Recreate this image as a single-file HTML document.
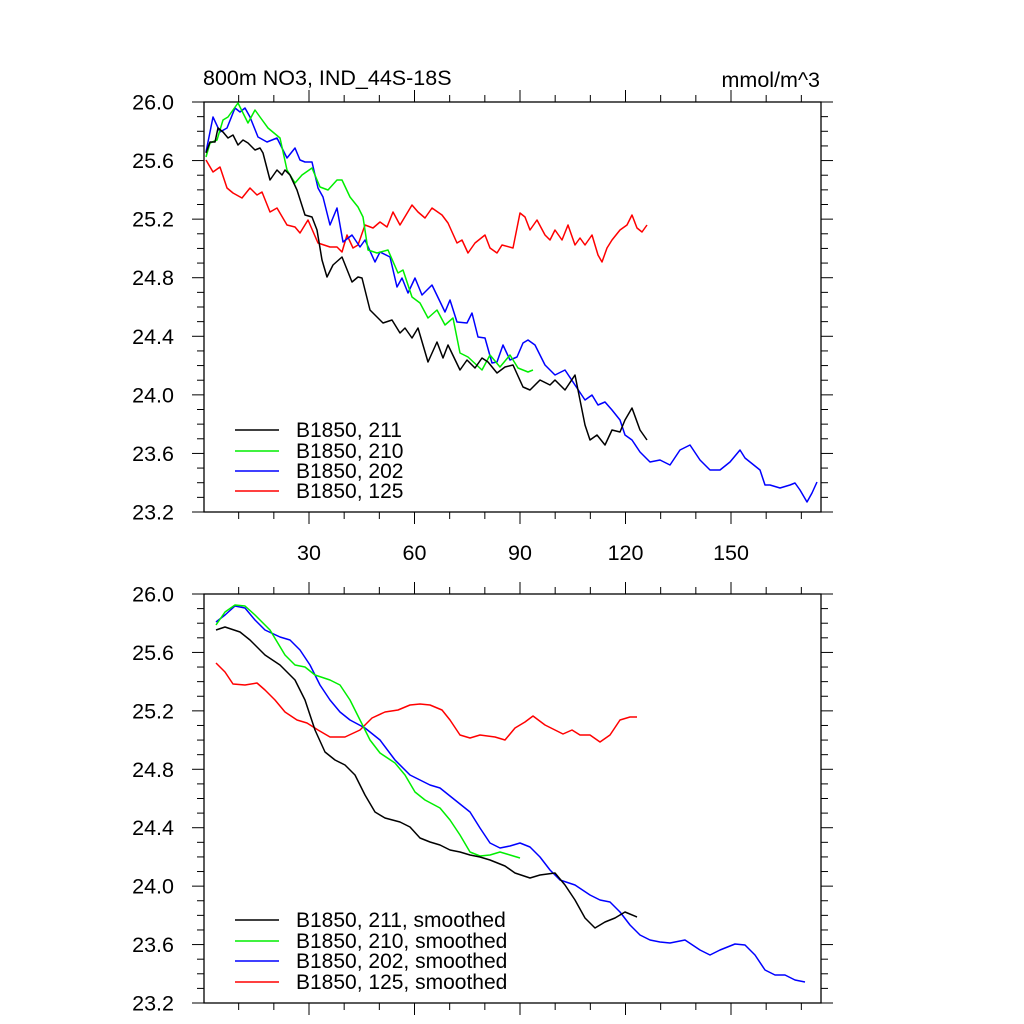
<!DOCTYPE html>
<html><head><meta charset="utf-8"><style>
html,body{margin:0;padding:0;background:#fff}
svg{display:block}
text{font-family:"Liberation Sans",sans-serif;fill:#000}
</style></head><body>
<svg id="s" width="1024" height="1024" xmlns="http://www.w3.org/2000/svg">
<text x="203" y="85" font-size="21.5">800m NO3, IND_44S-18S</text>
<text x="820" y="87" font-size="21.5" text-anchor="end">mmol/m^3</text>
<g id="ax"></g>
<g fill="none" stroke-width="1.5" stroke-linejoin="round">
<polyline stroke="#ff0000" points="206,160 213,172 220,167 227,188 233,193 242,198 250,188 257,195 262,192 270,212 277,208 287,225 295,227 300,233 308,220 318,243 330,247 337,247 342,252 347,235 353,248 358,245 365,225 373,228 380,222 387,227 393,212 400,225 412,205 418,212 425,218 432,208 442,215 448,223 457,243 462,240 468,253 475,243 485,235 490,248 497,253 502,245 513,248 520,213 525,217 530,230 537,220 545,235 550,240 555,230 562,240 568,225 575,245 580,238 585,245 592,235 598,255 602,262 607,248 612,240 620,230 627,225 632,215 637,228 642,232 647,225"/>
<polyline stroke="#0000ff" points="206,152 213,117 220,132 227,128 235,108 240,112 245,108 250,117 258,137 267,142 277,138 287,158 295,148 300,160 305,162 312,162 318,188 323,197 330,225 337,208 343,242 352,235 360,247 365,240 375,262 380,252 390,257 397,287 402,278 408,293 415,278 422,295 432,285 445,312 450,300 457,322 467,323 472,313 478,337 485,338 492,363 497,362 503,345 510,360 517,357 523,343 528,340 535,345 545,365 555,375 565,370 575,385 585,400 592,395 598,405 605,402 612,410 620,420 625,435 632,440 640,452 650,462 660,460 670,465 680,450 690,445 700,460 710,470 720,470 730,462 740,450 745,458 750,462 760,470 765,485 770,485 780,488 790,485 795,483 800,490 807,502 812,493 817,482"/>
<polyline stroke="#00ee00" points="206,157 210,143 217,140 223,120 228,117 233,110 238,103 243,113 248,123 255,110 260,117 268,128 280,138 287,170 295,183 302,175 312,168 320,187 328,190 337,180 342,180 350,197 358,207 363,217 368,250 377,253 388,250 398,273 403,270 412,297 420,303 428,318 437,310 445,325 453,318 460,353 468,357 482,370 490,355 500,367 510,355 518,368 528,372 533,370"/>
<polyline stroke="#000" points="206,153 210,142 215,142 218,128 223,132 228,138 233,135 238,145 243,140 248,143 255,150 260,148 263,153 270,180 277,170 282,175 285,170 290,175 297,190 305,215 312,217 317,230 322,260 327,277 333,265 342,257 352,282 358,277 362,278 370,310 383,323 392,320 400,333 405,328 412,338 418,328 428,362 437,342 443,358 448,345 460,370 467,360 475,368 482,358 488,362 497,373 505,367 513,365 523,387 530,390 540,380 550,385 555,380 565,390 575,375 580,400 585,425 590,440 597,435 605,445 612,430 620,432 625,420 632,408 640,430 647,440"/>
<polyline stroke="#ff0000" points="216,663 225,672 233,684 245,685 257,683 265,690 275,700 285,712 297,720 307,723 318,730 330,737 345,737 360,730 372,718 385,712 398,710 410,705 420,704 430,705 442,710 450,720 460,735 470,738 480,735 495,737 505,740 515,728 525,722 533,716 545,725 555,730 563,734 572,730 580,735 590,735 600,742 610,735 620,720 630,717 637,717"/>
<polyline stroke="#0000ff" points="216,622 225,615 235,606 245,608 255,620 265,630 280,637 290,640 300,650 310,665 320,685 330,700 340,712 350,720 365,728 380,740 395,760 410,775 420,780 430,785 440,788 455,800 470,812 480,828 490,843 500,848 510,846 520,843 530,847 540,857 550,870 560,880 575,885 590,895 600,900 610,902 620,912 630,925 640,935 650,940 660,942 670,943 685,940 700,950 710,955 720,950 735,944 745,945 755,955 765,970 775,975 785,975 795,980 805,982"/>
<polyline stroke="#00ee00" points="216,625 225,612 235,605 245,606 255,615 270,630 285,655 295,665 305,667 315,675 330,680 340,685 350,700 360,720 370,740 380,753 395,763 405,775 415,792 425,800 440,808 450,820 460,835 470,852 480,856 490,855 500,852 510,855 520,858"/>
<polyline stroke="#000" points="216,630 225,627 240,632 250,640 265,655 280,665 295,680 305,700 315,730 325,752 335,760 345,765 355,775 365,795 375,812 385,818 400,822 410,827 420,838 430,842 440,845 450,850 460,852 470,855 480,857 490,860 505,866 515,873 530,878 540,875 555,873 565,885 575,900 585,918 595,928 605,922 615,918 625,912 637,917"/>
</g>
<g font-size="21">
<line x1="235" y1="430" x2="279" y2="430" stroke="#000" stroke-width="1.5"/><text x="296" y="437">B1850, 211</text>
<line x1="235" y1="451" x2="279" y2="451" stroke="#00ee00" stroke-width="1.5"/><text x="296" y="458">B1850, 210</text>
<line x1="235" y1="471" x2="279" y2="471" stroke="#0000ff" stroke-width="1.5"/><text x="296" y="478">B1850, 202</text>
<line x1="235" y1="491" x2="279" y2="491" stroke="#ff0000" stroke-width="1.5"/><text x="296" y="498">B1850, 125</text>
<line x1="235" y1="920" x2="279" y2="920" stroke="#000" stroke-width="1.5"/><text x="296" y="927">B1850, 211, smoothed</text>
<line x1="235" y1="941" x2="279" y2="941" stroke="#00ee00" stroke-width="1.5"/><text x="296" y="948">B1850, 210, smoothed</text>
<line x1="235" y1="961" x2="279" y2="961" stroke="#0000ff" stroke-width="1.5"/><text x="296" y="968">B1850, 202, smoothed</text>
<line x1="235" y1="982" x2="279" y2="982" stroke="#ff0000" stroke-width="1.5"/><text x="296" y="989">B1850, 125, smoothed</text>
</g>
</svg>
<script>
(function(){
var g=document.getElementById('ax'),h='';
var L=204,R=821;
function X(v){return 203.5+3.5167*v;}
function panel(top,bot,xlabels){
 h+='<rect x="'+L+'" y="'+top+'" width="'+(R-L)+'" height="'+(bot-top)+'" fill="none" stroke="#000" stroke-width="1.3"/>';
 for(var i=0;i<=28;i++){var y=top+(bot-top)*i/28;var maj=i%4==0;var l=maj?12:7;
  h+='<line x1="'+(L-l)+'" y1="'+y+'" x2="'+L+'" y2="'+y+'" stroke="#000"/>';
  h+='<line x1="'+R+'" y1="'+y+'" x2="'+(R+l)+'" y2="'+y+'" stroke="#000"/>';
  if(maj){h+='<text x="174" y="'+(y+7.5)+'" font-size="21.5" text-anchor="end">'+(26-i/10).toFixed(1)+'</text>';}}
 for(var v=10;v<=170;v+=10){var x=X(v);var maj=v%30==0;var l=maj?12:7;
  h+='<line x1="'+x+'" y1="'+(top-l)+'" x2="'+x+'" y2="'+top+'" stroke="#000"/>';
  h+='<line x1="'+x+'" y1="'+bot+'" x2="'+x+'" y2="'+(bot+l)+'" stroke="#000"/>';
  if(maj&&xlabels){h+='<text x="'+x+'" y="'+(bot+48)+'" font-size="21.5" text-anchor="middle">'+v+'</text>';}}
}
panel(102,512,true);panel(594,1003,false);
g.innerHTML=h;
})();
</script>
</body></html>
